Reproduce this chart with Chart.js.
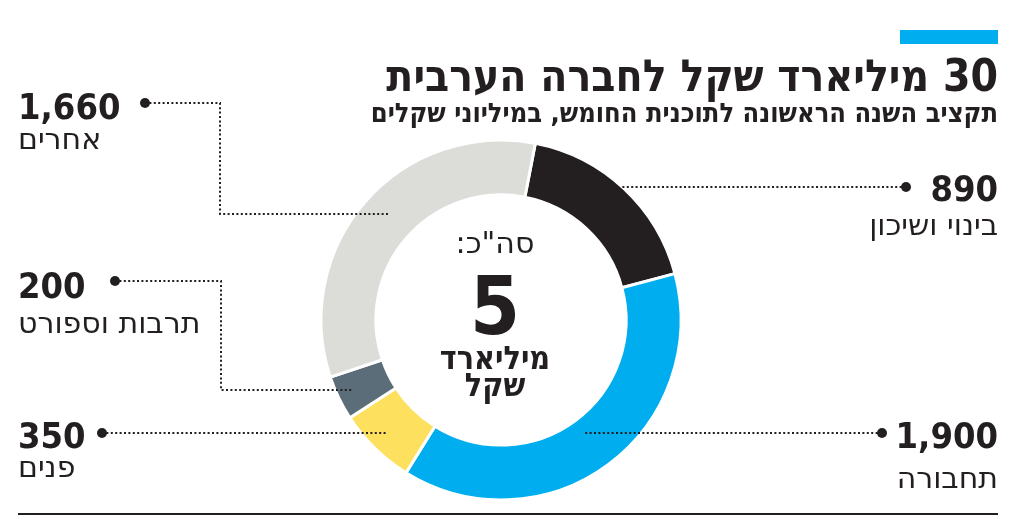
<!DOCTYPE html>
<html lang="he">
<head>
<meta charset="utf-8">
<script src="https://cdn.jsdelivr.net/npm/chart.js@4/dist/chart.umd.min.js"></script>
<style>
  body { margin: 0; background: #fff; }
  #wrap { position: relative; width: 1024px; height: 528px; overflow: hidden; font-family: "DejaVu Sans", sans-serif; color: #231f20; }
  #myChart { position: absolute; left: 0; top: 0; }
  .t { position: absolute; white-space: nowrap; line-height: 1; }
  .title { right: 26px; top: 50px; font: bold 44px "DejaVu Sans Condensed", "DejaVu Sans", sans-serif; }
  .sub { right: 26px; top: 97px; font: bold 27px "DejaVu Sans Condensed", "DejaVu Sans", sans-serif; }
  .num { font: bold 36px "DejaVu Sans Condensed", "DejaVu Sans", sans-serif; }
  .cat { font: 30px "DejaVu Sans", sans-serif; }
  .l { left: 18px; text-align: left; }
  .r { right: 26px; text-align: right; }
  .bar { position: absolute; left: 900px; top: 30px; width: 98px; height: 14px; background: #00aeef; }
  .rule { position: absolute; left: 18px; top: 513px; width: 980px; height: 2px; background: #231f20; }
  .center { position: absolute; left: 395px; width: 200px; text-align: center; }
</style>
</head>
<body>
<div id="wrap">
  <canvas id="myChart" width="1024" height="528"></canvas>
  <div class="bar"></div>
  <div class="t title" dir="rtl">30 מיליארד שקל לחברה הערבית</div>
  <div class="t sub" dir="rtl">תקציב השנה הראשונה לתוכנית החומש, במיליוני שקלים</div>
  <div id="labels"></div>
  <div class="t center" dir="rtl" style="top:225px;font:30px 'DejaVu Sans',sans-serif;">סה"כ:</div>
  <div class="t center" style="top:260px;font:bold 80px 'DejaVu Sans Condensed','DejaVu Sans',sans-serif;">5</div>
  <div class="t center" dir="rtl" style="top:339px;font:bold 32px 'DejaVu Sans Condensed','DejaVu Sans',sans-serif;">מיליארד</div>
  <div class="t center" dir="rtl" style="top:366px;font:bold 32px 'DejaVu Sans Condensed','DejaVu Sans',sans-serif;">שקל</div>
  <div class="rule"></div>
</div>
<script>
// data
var categories = ['בינוי ושיכון', 'תחבורה', 'פנים', 'תרבות וספורט', 'אחרים'];
var values = [890, 1900, 350, 200, 1660];
var valueLabels = ['890', '1,900', '350', '200', '1,660'];
var colors = ['#231f20', '#00aeef', '#fde05e', '#5b6d78', '#dcdcd9'];

// label layout: side, dot position, elbow x / end y, depth into the ring (0 inner .. 1 outer)
var leaders = [
  { side: 'r', numTop: 168, catTop: 207, dot: [906, 187], endY: 187, depth: 1.0 },
  { side: 'r', numTop: 415, catTop: 460, dot: [882, 433], endY: 433, depth: 0.27 },
  { side: 'l', numTop: 415, catTop: 449, dot: [102, 433], endY: 433, depth: 0.65 },
  { side: 'l', numTop: 265, catTop: 305, dot: [115, 281], elbowX: 221, endY: 390, depth: 0.72 },
  { side: 'l', numTop: 86, catTop: 121, dot: [145, 103], elbowX: 220, endY: 214, depth: 0.52 }
];

function buildLabels() {

  var html = '';

  for (var i = 0; i < categories.length; i++) {

    var L = leaders[i];
    html += '<div class="t num ' + L.side + '" style="top:' + L.numTop + 'px">' + valueLabels[i] + '</div>';
    html += '<div class="t cat ' + L.side + '" dir="rtl" style="top:' + L.catTop + 'px">' + categories[i] + '</div>';
  }

  document.getElementById('labels').innerHTML = html;
}

var leaderPlugin = {
  id: 'leaders',
  afterDraw: function(chart) {

    var ctx = chart.ctx;
    var arcs = chart.getDatasetMeta(0).data;

    ctx.save();
    ctx.strokeStyle = '#231f20';
    ctx.fillStyle = '#231f20';

    for (var i = 0; i < arcs.length; i++) {

      var a = arcs[i];
      var L = leaders[i];
      var R = a.innerRadius + L.depth * (a.outerRadius - a.innerRadius);
      var dy = L.endY - a.y;
      var dx = Math.sqrt(Math.max(R * R - dy * dy, 0));
      var endX = L.side === 'r' ? a.x + dx : a.x - dx;

      ctx.lineWidth = 2;
      ctx.setLineDash([2, 2.4]);
      ctx.beginPath();
      ctx.moveTo(L.dot[0], L.dot[1]);
      if (L.elbowX) {
        ctx.lineTo(L.elbowX, L.dot[1]);
        ctx.lineTo(L.elbowX, L.endY);
      }
      ctx.lineTo(endX, L.endY);
      ctx.stroke();

      ctx.setLineDash([]);
      ctx.beginPath();
      ctx.arc(L.dot[0], L.dot[1], 5, 0, Math.PI * 2);
      ctx.fill();
    }

    ctx.restore();
  }
};

function drawChart() {

  var ctx = document.getElementById('myChart').getContext('2d');

  new Chart(ctx, {
    type: 'doughnut',
    data: {
      labels: categories,
      datasets: [{
        data: values,
        backgroundColor: colors,
        borderColor: '#ffffff',
        borderWidth: 3
      }]
    },
    options: {
      responsive: false,
      animation: false,
      rotation: 11,
      radius: 180,
      cutout: 131,
      layout: { padding: { left: 300, right: 322, top: 130, bottom: 18 } },
      plugins: { legend: { display: false }, tooltip: { enabled: false } }
    },
    plugins: [leaderPlugin]
  });
}

buildLabels();
drawChart();
</script>
</body>
</html>
